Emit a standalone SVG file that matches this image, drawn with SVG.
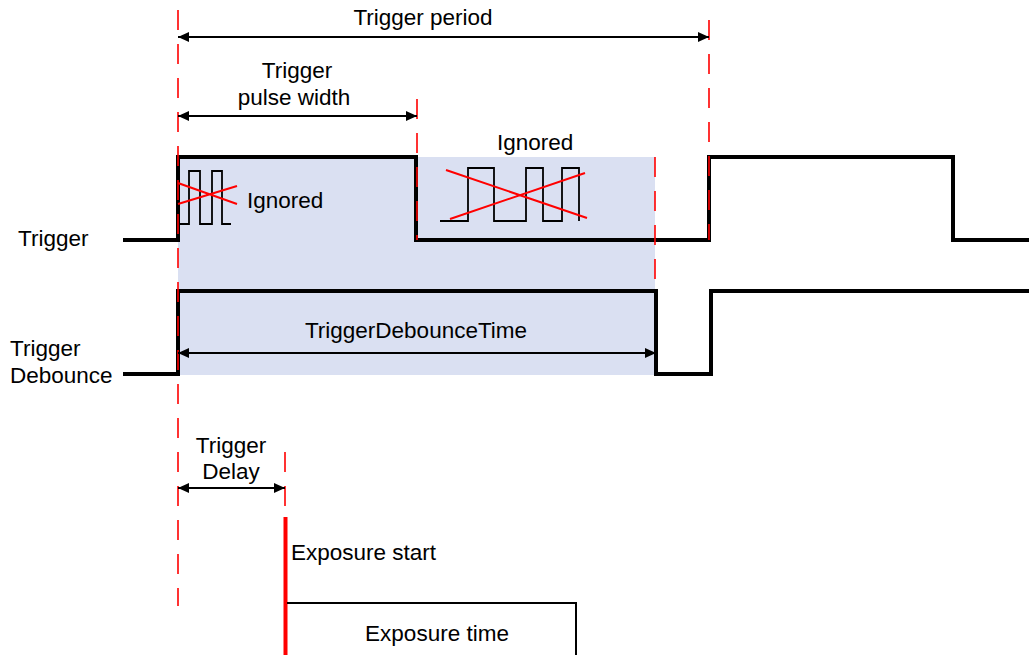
<svg xmlns="http://www.w3.org/2000/svg" width="1029" height="655" viewBox="0 0 1029 655">
<defs>
<style>
text{font-family:"Liberation Sans",Arial,sans-serif;font-size:22.5px;fill:#000}
.sig{fill:none;stroke:#000;stroke-width:4;stroke-linejoin:miter}
.glitch{fill:none;stroke:#000;stroke-width:1.8}
.cross{stroke:#f00;stroke-width:2;fill:none}
.dash{stroke:#f00;stroke-width:1.6;stroke-dasharray:20 14;fill:none}
.dim{stroke:#000;stroke-width:2;fill:none;marker-start:url(#a0);marker-end:url(#a1)}
</style>
<marker id="a1" markerWidth="12" markerHeight="10" refX="11" refY="5" orient="auto" markerUnits="userSpaceOnUse"><path d="M0,0 L11,5 L0,10 Z" fill="#000"/></marker>
<marker id="a0" markerWidth="12" markerHeight="10" refX="1" refY="5" orient="auto" markerUnits="userSpaceOnUse"><path d="M12,0 L1,5 L12,10 Z" fill="#000"/></marker>
</defs>
<rect width="1029" height="655" fill="#fff"/>
<rect id="shade" x="178" y="157" width="477" height="218" fill="#DAE0F2"/>

<g id="trigger">
<path class="sig" d="M123,240 H178 V157 H416 V240 H709 V157 H953 V240 H1029"/>
<text x="18" y="246">Trigger</text>
</g>
<g id="debounce">
<path class="sig" d="M123,374 H178 V291 H656 V374 H711 V291 H1029"/>
<text x="10" y="356">Trigger</text>
<text x="10" y="383">Debounce</text>
</g>

<g id="ignored1">
<path class="glitch" d="M180,224 H189 V171 H200 V224 H212 V171 H222 V224 H231"/>
<path class="cross" d="M178,183 L237,204 M178,204 L237,186"/>
<text x="247" y="208">Ignored</text>
</g>
<g id="ignored2">
<path class="glitch" d="M440,221 H468 V168 H494 V221 H526 V168 H543 V221 H562 V168 H579 V221"/>
<path class="cross" d="M446,170 L587,218 M450,219 L585,173"/>
<text x="497" y="150">Ignored</text>
</g>

<g id="exposure">
<line x1="285.5" y1="517" x2="285.5" y2="655" stroke="#f00" stroke-width="4"/>
<path d="M287,603 H576 V655" fill="none" stroke="#000" stroke-width="2"/>
<text x="291" y="560">Exposure start</text>
<text x="437" y="641" text-anchor="middle">Exposure time</text>
</g>

<g id="guides">
<line class="dash" x1="178" y1="10" x2="178" y2="606"/>
<line class="dash" x1="417" y1="99" x2="417" y2="240"/>
<line class="dash" x1="709" y1="20" x2="709" y2="240"/>
<line class="dash" x1="655" y1="157" x2="655" y2="282"/>
<line class="dash" x1="285" y1="452" x2="285" y2="508"/>
</g>

<g id="connectors">
<line class="dim" x1="178" y1="37" x2="709" y2="37"/>
<line class="dim" x1="178" y1="116" x2="417" y2="116"/>
<line class="dim" x1="178" y1="353" x2="656" y2="353"/>
<line class="dim" x1="178" y1="488" x2="285" y2="488"/>
</g>

<g id="labels">
<text x="423" y="25" text-anchor="middle">Trigger period</text>
<text x="297" y="78" text-anchor="middle">Trigger</text>
<text x="294" y="105" text-anchor="middle">pulse width</text>
<text x="416" y="338" text-anchor="middle">TriggerDebounceTime</text>
<text x="231" y="453" text-anchor="middle">Trigger</text>
<text x="231" y="479" text-anchor="middle">Delay</text>
</g>
</svg>
